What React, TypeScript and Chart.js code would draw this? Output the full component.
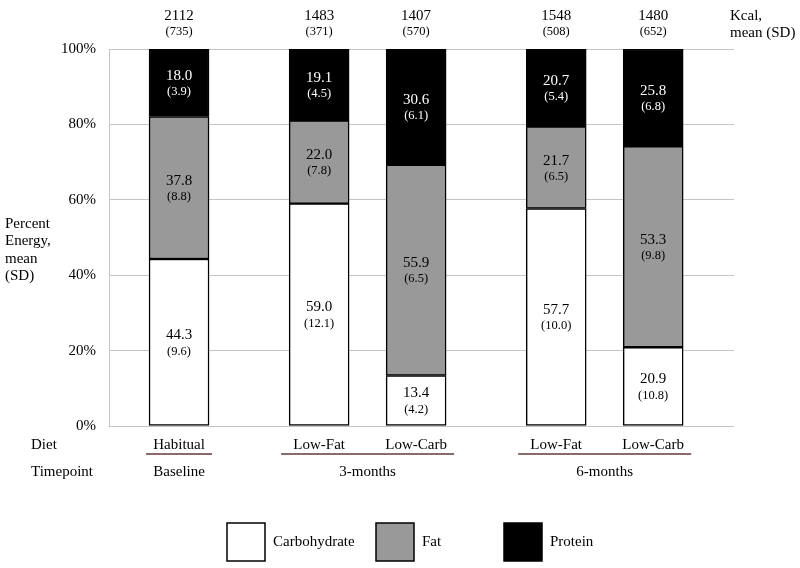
import React, { useEffect, useRef } from "react";
import { Chart, registerables } from "chart.js";

Chart.register(...registerables);

const categories = ["Habitual", "Low-Fat", "Low-Carb", "Low-Fat", "Low-Carb"];
const timepoints = ["Baseline", "3-months", "3-months", "6-months", "6-months"];
const carbohydrate = [44.3, 59.0, 13.4, 57.7, 20.9];
const carbohydrateSD = [9.6, 12.1, 4.2, 10.0, 10.8];
const fat = [37.8, 22.0, 55.9, 21.7, 53.3];
const fatSD = [8.8, 7.8, 6.5, 6.5, 9.8];
const protein = [18.0, 19.1, 30.6, 20.7, 25.8];
const proteinSD = [3.9, 4.5, 6.1, 5.4, 6.8];
const kcal = [2112, 1483, 1407, 1548, 1480];
const kcalSD = [735, 371, 570, 508, 652];
const yTickStep = 20;
const yMax = 100;

// layout of category slots (spacing only)
const LEAD = 6;
const GAP_WITHIN = 8;
const GAP_BETWEEN = 12;
const TRAIL = 7;

const FONT = "'Liberation Serif', 'Times New Roman', serif";

function buildSlots() {
  const slotIndex: number[] = [];
  let idx = LEAD;
  for (let i = 0; i < categories.length; i++) {
    if (i > 0) {
      idx += (timepoints[i] === timepoints[i - 1] ? GAP_WITHIN : GAP_BETWEEN) + 1;
    }
    slotIndex.push(idx);
  }
  const total = idx + 1 + TRAIL;
  const labels: string[] = new Array(total).fill("");
  slotIndex.forEach((s, i) => (labels[s] = categories[i]));
  const spread = (arr: number[]) => {
    const out: (number | null)[] = new Array(total).fill(null);
    slotIndex.forEach((s, i) => (out[s] = arr[i]));
    return out;
  };
  return { slotIndex, labels, spread };
}

export default function App() {
  const ref = useRef<HTMLCanvasElement | null>(null);

  useEffect(() => {
    if (!ref.current) return;
    const { slotIndex, labels, spread } = buildSlots();
    const sds = [carbohydrateSD, fatSD, proteinSD];
    const vals = [carbohydrate, fat, protein];
    const textColors = ["#000", "#000", "#fff"];

    const annot = {
      id: "annot",
      afterDraw(chart: any) {
        const ctx = chart.ctx as CanvasRenderingContext2D;
        const area = chart.chartArea;
        ctx.save();
        ctx.textBaseline = "middle";
        // in-bar labels
        chart.data.datasets.forEach((ds: any, d: number) => {
          const meta = chart.getDatasetMeta(d);
          slotIndex.forEach((s, i) => {
            const el: any = meta.data[s];
            if (!el) return;
            const top = Math.max(el.y, area.top);
            const c = (top + el.base) / 2;
            ctx.fillStyle = textColors[d];
            ctx.textAlign = "center";
            ctx.font = `15px ${FONT}`;
            ctx.fillText(vals[d][i].toFixed(1), el.x, c - 7);
            ctx.font = `12.5px ${FONT}`;
            ctx.fillText(`(${sds[d][i].toFixed(1)})`, el.x, c + 9);
          });
        });
        // kcal labels on top
        const meta0 = chart.getDatasetMeta(0);
        ctx.fillStyle = "#000";
        slotIndex.forEach((s, i) => {
          const el: any = meta0.data[s];
          ctx.textAlign = "center";
          ctx.font = `15px ${FONT}`;
          ctx.fillText(String(kcal[i]), el.x, 16);
          ctx.font = `12.5px ${FONT}`;
          ctx.fillText(`(${kcalSD[i]})`, el.x, 32);
        });
        ctx.textAlign = "left";
        ctx.font = `15px ${FONT}`;
        ctx.fillText("Kcal,", 730, 16);
        ctx.fillText("mean (SD)", 730, 33);

        // y title
        ["Percent", "Energy,", "mean", "(SD)"].forEach((t, k) => {
          ctx.fillText(t, 5, 224 + k * 17.4);
        });

        // diet / timepoint rows
        ctx.fillText("Diet", 31, 445);
        ctx.fillText("Timepoint", 31, 472);
        ctx.textAlign = "center";
        slotIndex.forEach((s, i) => {
          const el: any = meta0.data[s];
          ctx.fillText(categories[i], el.x, 445);
        });
        // groups
        const groups: { name: string; xs: number[]; w: number }[] = [];
        slotIndex.forEach((s, i) => {
          const el: any = meta0.data[s];
          const g = groups.find((gg) => gg.name === timepoints[i]);
          if (g) g.xs.push(el.x);
          else groups.push({ name: timepoints[i], xs: [el.x], w: el.width });
        });
        groups.forEach((g) => {
          const lo = Math.min(...g.xs);
          const hi = Math.max(...g.xs);
          const cx = (lo + hi) / 2;
          const pad = g.xs.length > 1 ? 8 : 3;
          const half = (hi - lo) / 2 + g.w / 2 + pad;
          ctx.strokeStyle = "#8c6a6a";
          ctx.lineWidth = 2;
          ctx.beginPath();
          ctx.moveTo(cx - half, 454);
          ctx.lineTo(cx + half, 454);
          ctx.stroke();
          ctx.fillStyle = "#000";
          ctx.fillText(g.name, cx, 472);
        });

        // legend
        const legendX = [227, 376, 504];
        chart.data.datasets.forEach((ds: any, d: number) => {
          const x = legendX[d];
          ctx.fillStyle = ds.backgroundColor;
          ctx.fillRect(x, 523, 38, 38);
          ctx.strokeStyle = "#000";
          ctx.lineWidth = 1.5;
          ctx.strokeRect(x, 523, 38, 38);
          ctx.fillStyle = "#000";
          ctx.textAlign = "left";
          ctx.font = `15px ${FONT}`;
          ctx.fillText(ds.label, x + 46, 542);
        });
        ctx.restore();
      },
    };

    const common = {
      borderColor: "#000",
      borderWidth: 1.5,
      borderSkipped: false as const,
      barThickness: 60,
    };

    const chart = new Chart(ref.current, {
      type: "bar",
      data: {
        labels,
        datasets: [
          { label: "Carbohydrate", data: spread(carbohydrate), backgroundColor: "#ffffff", ...common },
          { label: "Fat", data: spread(fat), backgroundColor: "#999999", ...common },
          { label: "Protein", data: spread(protein), backgroundColor: "#000000", ...common },
        ],
      },
      options: {
        responsive: false,
        animation: false,
        layout: { padding: { left: 0, top: 49, right: 66, bottom: 142 } },
        plugins: {
          legend: { display: false },
          tooltip: { enabled: false },
          title: { display: false },
        },
        scales: {
          x: {
            stacked: true,
            display: false,
            offset: true,
          },
          y: {
            stacked: true,
            min: 0,
            max: yMax,
            afterFit: (scale: any) => {
              scale.width = 109;
            },
            ticks: {
              stepSize: yTickStep,
              padding: 13,
              color: "#000",
              font: { family: FONT, size: 15 },
              callback: (v: any) => `${v}%`,
            },
            grid: { color: "#c4c4c4", lineWidth: 1, drawTicks: false },
            border: { display: true, color: "#c4c4c4" },
          },
        },
      },
      plugins: [annot],
    });
    return () => chart.destroy();
  }, []);

  return (
    <div style={{ position: "absolute", left: 0, top: 0, width: 800, height: 568, background: "#fff" }}>
      <canvas ref={ref} width={800} height={568} />
    </div>
  );
}
